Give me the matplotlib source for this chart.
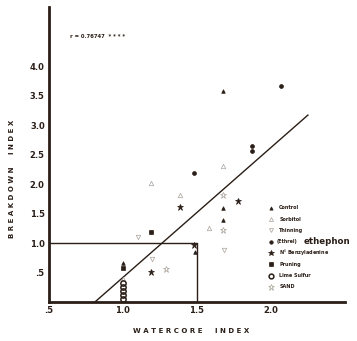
import matplotlib
matplotlib.use('Agg')
import matplotlib.pyplot as plt

# Points (watercore index, breakdown index)
control_x = [1.0, 1.674, 1.674, 1.674, 1.485]
control_y = [0.66, 3.58, 1.60, 1.40, 0.85]
sorbitol_x = [1.19, 1.385, 1.58, 1.674, 1.0]
sorbitol_y = [2.02, 1.81, 1.25, 2.31, 0.40]
thinning_x = [1.10, 1.20, 1.68]
thinning_y = [1.10, 0.73, 0.88]
ethephon_x = [1.48, 2.07, 1.874, 1.874]
ethephon_y = [2.19, 3.66, 2.64, 2.56]
benzyl_x = [1.385, 1.19, 1.48, 1.775]
benzyl_y = [1.61, 0.51, 0.97, 1.71]
pruning_x = [1.19, 1.0]
pruning_y = [1.19, 0.58]
lime_x = [1.0, 1.0, 1.0, 1.0, 1.0]
lime_y = [0.05, 0.12, 0.19, 0.26, 0.33]
sand_x = [1.29, 1.674, 1.674]
sand_y = [0.56, 1.81, 1.22]

# regression line and the 1.0 / 1.5 reference box
fit_x = [0.81, 2.25]
fit_y = [0.0, 3.17]
box_x = [0.5, 1.5, 1.5]
box_y = [1.0, 1.0, 0.0]

r_text = 'r = 0.76747  * * * *'
xticks = [0.5, 1.0, 1.5, 2.0]
xtick_labels = ['.5', '1.0', '1.5', '2.0']
yticks = [0.5, 1.0, 1.5, 2.0, 2.5, 3.0, 3.5, 4.0]
ytick_labels = ['.5', '1.0', '1.5', '2.0', '2.5', '3.0', '3.5', '4.0']

ink = '#2a1e17'
pale = '#a8a098'

fig = plt.figure(figsize=(3.57, 3.41), dpi=100)
ax = fig.add_axes([0.137, 0.114, 0.829, 0.865])

# (x, y, label, marker, size, face, edge, edge width)
series = [
    (control_x, control_y, 'Control', '^', 2.6, ink, ink, 0.5),
    (sorbitol_x, sorbitol_y, 'Sorbitol', '^', 3.2, 'none', pale, 0.5),
    (thinning_x, thinning_y, 'Thinning', 'v', 3.2, 'none', pale, 0.5),
    (ethephon_x, ethephon_y, 'ethephon', 'o', 2.8, ink, ink, 0.5),
    (benzyl_x, benzyl_y, 'N$^6$ Benzyladenine', '*', 4.5, ink, ink, 0.5),
    (pruning_x, pruning_y, 'Pruning', 's', 2.6, ink, ink, 0.5),
    (lime_x, lime_y, 'Lime Sulfur', 'o', 3.8, 'none', ink, 1.1),
    (sand_x, sand_y, 'SAND', '*', 5, 'none', pale, 0.5),
]

for xs, ys, lab, m, ms, fc, ec, mew in series:
    ax.plot(xs, ys, ls='none', marker=m, ms=ms, mfc=fc, mec=ec, mew=mew, zorder=3)

ax.plot(fit_x, fit_y, color=ink, lw=1.0)
ax.plot(box_x, box_y, color=ink, lw=1.0)

# legend drawn by hand (the ethephon row uses a bigger font)
for i, (xs, ys, lab, m, ms, fc, ec, mew) in enumerate(series):
    yy = 0.320 - i * 0.0383
    ax.plot([0.752], [yy], transform=ax.transAxes, ls='none', marker=m,
            ms=ms * 0.9, mfc=fc, mec=ec, mew=mew, clip_on=False)
    if lab == 'ethephon':
        ax.text(0.770, yy, '(Ethrel)', transform=ax.transAxes, fontsize=3.4,
                fontweight='bold', va='center', color=ink)
        ax.text(0.862, yy, 'ethephon', transform=ax.transAxes, fontsize=6.2,
                fontweight='bold', va='center', color=ink)
    else:
        ax.text(0.778, yy, lab, transform=ax.transAxes, fontsize=3.5,
                fontweight='bold', va='center', color=ink)

ax.text(0.64, 4.5, r_text, fontsize=3.8, fontweight='bold', color=ink, va='center')

ax.set_xlim(0.5, 2.5)
ax.set_ylim(0, 5.0)
ax.set_xticks(xticks)
ax.set_xticklabels(xtick_labels)
ax.set_yticks(yticks)
ax.set_yticklabels(ytick_labels)
ax.tick_params(length=0, labelsize=6, colors=ink, pad=3)
for lbl in ax.get_xticklabels() + ax.get_yticklabels():
    lbl.set_fontweight('bold')

ax.spines['top'].set_visible(False)
ax.spines['right'].set_visible(False)
for s in ['left', 'bottom']:
    ax.spines[s].set_linewidth(2.0)
    ax.spines[s].set_color(ink)

fig.text(0.535, 0.028, 'W A T E R C O R E     I N D E X', ha='center',
         va='center', fontsize=5, fontweight='bold', color=ink)
fig.text(0.034, 0.475, 'B R E A K D O W N     I N D E X', ha='center',
         va='center', rotation=90, fontsize=5, fontweight='bold', color=ink)

fig.savefig('out.png', dpi=100, facecolor='white')
